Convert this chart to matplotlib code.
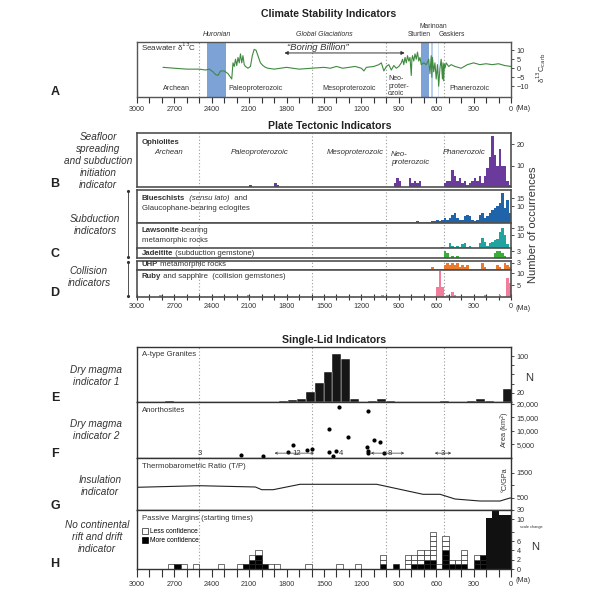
import matplotlib.pyplot as plt
import numpy as np
from matplotlib.patches import Patch
from matplotlib.text import Annotation

plt.rcParams['font.family'] = ['Liberation Sans', 'DejaVu Sans']

# ---------------- data ----------------
# seawater d13C (Ma, permil)
d13c_age = [2790, 2700, 2600, 2500, 2450, 2420, 2390, 2370, 2350, 2330, 2300, 2270, 2250, 2240,
            2230, 2220, 2210, 2200, 2190, 2180, 2170, 2160, 2150, 2140, 2130, 2110, 2090, 2075,
            2060, 2045, 2030, 2010, 1990, 1970, 1950, 1900, 1850, 1800, 1700, 1600, 1500, 1450,
            1400, 1350, 1300, 1250, 1200, 1180, 1160, 1100, 1060, 1040, 1020, 1000, 980, 960,
            940, 920, 900, 880, 870, 860, 850, 840, 830, 820, 810, 800, 795, 790, 780, 770, 760,
            750, 740, 730, 720, 700, 680, 665, 660, 650, 640, 635, 630, 620, 610, 600, 590, 580,
            570, 560, 550, 545, 540, 535, 530, 520, 500, 480, 450, 400, 350, 300, 250, 200, 150,
            100, 50, 0]
d13c_val = [0.5, 0, -0.5, -0.5, -1, -0.5, -2, -3.5, -4, -1.5, -1.5, -3, -5, -6,
            3, 1, 5, 1.5, 6, 3, 8, 3, 7, 2, 1, 0, 1, 7,
            10.5, 10, 7, 3, 1.5, 0.5, 0, -0.5, 0, 0.5, -0.5, 0, 0.5, 0,
            1, 0, 0.5, 1, 0, -1.5, 0.5, 1, 2, 3, -1.5, 1, 2, -1,
            1.5, 0, 1, 3, 5, 2, 6, 3, 7, 4, 6, -4, 5, 7, 4, 8, 5,
            9, 4, 6, 2, 3, 2, 4, 5, -3, 7, -5, 6, -2, 3, -6, 2, -10,
            0, 5, -6, 3, -7, 2, 0, 3, 1, 2, 1, 0, 2, 3, 2, 2.5, 2,
            2.5, 1.5, 1]

huronian = (2435, 2285)
sturtian = (724, 660)
marinoan = (641, 628)
gaskiers = (584, 578)
boundaries = [2500, 1600, 1000, 541]

# plate tectonic indicators, 20-Myr bins (young edge, Ma) and counts
oph_age = [2080, 1880, 1860, 920, 900, 880, 800, 780, 760, 740, 720,
           520, 500, 480, 460, 440, 420, 400, 380, 360, 340, 320, 300, 280, 260, 240,
           220, 200, 180, 160, 140, 120, 100, 80, 60, 40, 20, 0]
oph_n = [1, 2, 1, 2, 4, 3, 4, 2, 3, 2, 3,
         2, 3, 3, 8, 5, 3, 4, 2, 3, 1, 2, 3, 4, 3, 5,
         2, 5, 9, 14, 24, 15, 10, 18, 10, 10, 3, 1]
bs_age = [740, 620, 600, 580, 560, 540, 520, 500, 480, 460, 440, 420, 400, 380, 360, 340,
          320, 300, 280, 260, 240, 220, 200, 180, 160, 140, 120, 100, 80, 60, 40, 20, 0]
bs_n = [1, 1, 1, 2, 1, 2, 3, 2, 3, 5, 6, 3, 2, 2, 4, 5,
        4, 2, 1, 2, 5, 6, 3, 4, 6, 8, 9, 10, 12, 18, 9, 14, 6]
lw_age = [540, 480, 460, 440, 420, 400, 380, 360, 340, 320, 240, 220, 200, 180, 160,
          140, 120, 100, 80, 60, 40, 20]
lw_n = [1, 4, 2, 1, 2, 1, 3, 4, 1, 2, 4, 8, 5, 2, 4, 5, 6, 7, 12, 15, 10, 3]
jd_age = [520, 500, 460, 420, 120, 100, 80, 60, 40]
jd_n = [3, 2, 1, 1, 2, 3, 3, 2, 1]
uhp_age = [620, 520, 500, 480, 460, 440, 420, 400, 380, 360, 340, 220, 200, 100, 80, 40, 20, 0]
uhp_n = [1, 2, 3, 2, 3, 2, 3, 1, 2, 1, 2, 3, 1, 2, 1, 3, 2, 1]
rb_age = [2800, 2100, 1020, 580, 560, 540, 500, 460, 440, 200, 80, 20, 0]
rb_n = [1, 1, 1, 4, 11, 4, 1, 2, 1, 1, 1, 8, 6]

# A-type granites (young bin edge, Ma; 72-Myr bins)
gr_age = [-8, 136, 208, 280, 496, 928, 1000, 1072, 1216, 1288, 1360, 1432, 1504, 1576,
          1648, 1720, 1792, 2704]
gr_n = [28, 3, 6, 3, 2, 2, 6, 2, 6, 94, 104, 65, 41, 22, 6, 5, 2, 2]

# anorthosites (Ma, km2)
an_age = [2168, 1989, 1791, 1751, 1633, 1598, 1457, 1430, 1403, 1379, 1457, 1305, 1149,
          1152, 1149, 1149, 1099, 1053, 1018]
an_area = [1000, 800, 2400, 4700, 3000, 3400, 2400, 900, 2750, 18800, 10800, 7600, 17500,
           4000, 2500, 1700, 6700, 5900, 1900]
an_counts = [(2500, '3'), (1720, '12'), (1360, '4'), (975, '8'), (545, '3')]
an_ranges = [(1919, 1558), (1147, 834), (634, 457)]

# thermobarometric ratio (Ma, C/GPa)
tp_age = [3000, 2500, 2050, 2000, 1908, 1692, 1077, 706, 569, 449, 249, 88, 8, 0]
tp_val = [917, 981, 929, 820, 820, 1038, 1038, 634, 634, 444, 363, 363, 485, 480]

# passive margins (young bin edge, Ma; 50-Myr bins): more / less confidence
pm_age = [2700, 2650, 2600, 2500, 2300, 2150, 2100, 2050, 2000, 1950, 1900, 1850, 1600,
          1350, 1200, 1000, 900, 800, 750, 700, 650, 600, 550, 500, 450, 400, 350, 250,
          200, 150, 100, 50, 0]
pm_more = [0, 1, 0, 0, 0, 0, 1, 2, 3, 1, 0, 0, 0, 0, 0, 1, 1, 0, 1, 1, 2, 2, 0, 4, 1, 1, 1,
           2, 3, 12, 27, 20, 20]
pm_less = [1, 0, 1, 1, 1, 1, 0, 1, 1, 0, 1, 1, 1, 1, 1, 2, 0, 3, 2, 3, 2, 6, 1, 3, 1, 1, 3,
           1, 0, 0, 0, 0, 0]

# ---------------- figure ----------------
fig = plt.figure(figsize=(6, 6), dpi=100)
TXT = '#333333'


def rect(x0, y0, x1, y1):
    return [x0 / 600, 1 - y1 / 600, (x1 - x0) / 600, (y1 - y0) / 600]


def base(ax, edge='#4a4a4a', lw=1.0):
    ax.set_xlim(3000, 0)
    for b in boundaries:
        ax.axvline(b, color='#9a9a9a', ls=(0, (1, 2)), lw=0.8, zorder=0)
    ax.yaxis.tick_right()
    ax.tick_params(axis='y', labelsize=5.2, length=2.5, width=0.6, pad=1.5, colors=TXT)
    ax.set_xticks([])
    for s in ax.spines.values():
        s.set_color(edge)
        s.set_linewidth(lw)


def xaxis(ax, length, direction, pad):
    ticks = np.arange(0, 3001, 100)
    ax.set_xticks(ticks)
    ax.set_xticklabels([str(t) if t % 300 == 0 else '' for t in ticks])
    ax.tick_params(axis='x', labelsize=5.2, length=length, width=0.8, direction=direction,
                   colors=TXT, pad=pad)
    ax.annotate('(Ma)', xy=(0, 0), xycoords=ax.get_xaxis_transform(), xytext=(3.5, -(pad + 5.5)),
                textcoords='offset points', ha='left', va='center', fontsize=5.2, color=TXT)


def ftext(x, y, s, **kw):
    kw.setdefault('color', TXT)
    return fig.text(x / 600, 1 - y / 600, s, **kw)


def rich(x, y, parts):
    # chain of (text, weight, style) pieces placed one after another
    prev = None
    for s, w, st in parts:
        if prev is None:
            prev = ftext(x, y, s, va='center', fontsize=5.6, weight=w, style=st)
        else:
            a = Annotation(s, xy=(1, 0.5), xycoords=prev, xytext=(0, 0),
                           textcoords='offset points', va='center', fontsize=5.6, color=TXT,
                           weight=w, style=st)
            fig.add_artist(a)
            prev = a


# ---- A: climate ----
axA = fig.add_axes(rect(137, 42, 511, 97))
base(axA, edge='#555555')
axA.axvspan(*huronian, color='#7da2d6', lw=0, zorder=1)
axA.axvspan(*sturtian, color='#7da2d6', lw=0, zorder=1)
axA.axvspan(*marinoan, color='#b9cfee', lw=0, zorder=1)
axA.axvspan(*gaskiers, color='#d5e2f4', lw=0, zorder=1)
axA.plot(d13c_age, d13c_val, color='#3e8a3e', lw=0.8, zorder=2)
axA.set_ylim(-16, 14.6)
axA.set_yticks([-10, -5, 0, 5, 10])
xaxis(axA, 4, 'out', 2.5)
axA.text(0.01, 0.84, 'Seawater δ$^{13}$C', transform=axA.transAxes, fontsize=5.8, color=TXT)
axA.text(1550, 11.5, '\u201cBoring Billion\u201d', ha='center', va='center', fontsize=6.8,
         style='italic', color=TXT)
axA.annotate('', xy=(1840, 8.5), xytext=(830, 8.5),
             arrowprops=dict(arrowstyle='<|-|>', lw=0.7, color='#333', mutation_scale=5))
for x, s in [(2790, 'Archean'), (2050, 'Paleoproterozoic'), (1300, 'Mesoproterozoic'),
             (330, 'Phanerozoic')]:
    axA.text(x, -11, s, ha='center' if x != 2790 else 'left', va='center', fontsize=5.2, color=TXT)
axA.text(985, -10, 'Neo-\nproter-\nozoic', ha='left', va='center', fontsize=5, color=TXT,
         linespacing=1.05)
ftext(217, 35, 'Huronian', ha='center', va='center', fontsize=5, style='italic')
ftext(324, 35, 'Global Glaciations', ha='center', va='center', fontsize=5, style='italic')
ftext(419, 35, 'Sturtien', ha='center', va='center', fontsize=4.8)
ftext(433, 27, 'Marinoan', ha='center', va='center', fontsize=4.8)
ftext(452, 35, 'Gaskiers', ha='center', va='center', fontsize=4.8)
ftext(541, 68, 'δ$^{13}$C$_{\\rm carb}$', rotation=90, ha='center', va='center', fontsize=5.5)
ftext(329, 14, 'Climate Stability Indicators', ha='center', va='center', fontsize=7.6,
      weight='bold', color='#222')

# ---- B-D: plate tectonics ----
plate = [
    ((137, 133, 511, 187), oph_age, oph_n, '#6a3b9c', 25.3, [10, 20]),
    ((137, 190, 511, 223), bs_age, bs_n, '#1f63a8', 20, [10, 15]),
    ((137, 223, 511, 248.5), lw_age, lw_n, '#23a3a0', 19, [10, 15]),
    ((137, 248.5, 511, 258), jd_age, jd_n, '#3aad3a', 4.2, [3]),
    ((137, 261, 511, 269.5), uhp_age, uhp_n, '#eb7a2e', 3.9, [3]),
    ((137, 269.5, 511, 297), rb_age, rb_n, '#f27d9b', 11.5, [5, 10]),
]
pax = []
for r, ages, ns, col, top, yt in plate:
    ax = fig.add_axes(rect(*r))
    base(ax, edge='#505050', lw=1.2)
    ax.bar(ages, ns, width=20, align='edge', color=col, lw=0, zorder=2)
    ax.set_ylim(0, top)
    ax.set_yticks(yt)
    pax.append(ax)
xaxis(pax[-1], 4, 'inout', 2.5)

ftext(142, 142, 'Ophiolites', va='center', fontsize=5.6, weight='bold')
ftext(169, 153, 'Archean', ha='center', va='center', fontsize=5.6, style='italic')
ftext(260, 153, 'Paleoproterozoic', ha='center', va='center', fontsize=5.6, style='italic')
ftext(355, 153, 'Mesoproterozoic', ha='center', va='center', fontsize=5.6, style='italic')
ftext(391, 158, 'Neo-\nproterozoic', ha='left', va='center', fontsize=5.6, style='italic',
      linespacing=1.2)
ftext(443, 153, 'Phanerozoic', ha='left', va='center', fontsize=5.6, style='italic')
rich(142, 199, [('Blueschists', 'bold', 'normal'), ('  (sensu lato)', 'normal', 'italic'),
                ('  and', 'normal', 'normal')])
ftext(142, 208, 'Glaucophane-bearing eclogites', va='center', fontsize=5.6)
rich(142, 231, [('Lawsonite', 'bold', 'normal'), ('-bearing', 'normal', 'normal')])
ftext(142, 240, 'metamorphic rocks', va='center', fontsize=5.6)
rich(142, 253.5, [('Jadeitite', 'bold', 'normal'), (' (subduction gemstone)', 'normal', 'normal')])
rich(142, 265, [('UHP', 'bold', 'normal'), (' metamorphic rocks', 'normal', 'normal')])
rich(142, 276, [('Ruby', 'bold', 'normal'),
                (' and sapphire  (collision gemstones)', 'normal', 'normal')])
ftext(533, 225, 'Number of occurrences', rotation=90, ha='center', va='center', fontsize=8)
ftext(330, 126, 'Plate Tectonic Indicators', ha='center', va='center', fontsize=7.6,
      weight='bold', color='#222')

left_lab = dict(ha='center', va='center', fontsize=7.2, style='italic', linespacing=1.25)
ftext(98, 161, 'Seafloor\nspreading\nand subduction\ninitiation\nindicator', **left_lab)
ftext(95, 225, 'Subduction\nindicators', **left_lab)
ftext(89, 277, 'Collision\nindicators', **left_lab)
for y, s in [(92, 'A'), (184, 'B'), (254, 'C'), (293, 'D'), (398, 'E'), (454, 'F'), (506, 'G'),
             (564, 'H')]:
    ftext(55, y, s, ha='center', va='center', fontsize=9, weight='bold', color='#222')
for y0, y1 in [(191, 257), (262, 296)]:
    fig.add_artist(plt.Line2D([128 / 600] * 2, [1 - y0 / 600, 1 - y1 / 600], color='#333', lw=0.6))
    fig.add_artist(plt.Line2D([128 / 600] * 2, [1 - y0 / 600, 1 - y1 / 600], color='#333', lw=0,
                              marker='.', markersize=2.5, markevery=[0, 1]))

# ---- E-H: single lid ----
ftext(334, 340, 'Single-Lid Indicators', ha='center', va='center', fontsize=7.6,
      weight='bold', color='#222')
ftext(96, 376, 'Dry magma\nindicator 1', **left_lab)
ftext(96, 430, 'Dry magma\nindicator 2', **left_lab)
ftext(100, 486, 'Insulation\nindicator', **left_lab)
ftext(97, 537, 'No continental\nrift and drift\nindicator', **left_lab)

axE = fig.add_axes(rect(137, 347, 511, 402))
base(axE, edge='#333333')
axE.bar(gr_age, gr_n, width=72, align='edge', color='#161616', edgecolor='white', lw=0.3, zorder=2)
axE.set_ylim(0, 119.6)
axE.set_yticks([20, 40, 60, 80, 100])
axE.set_yticklabels(['20', '', '', '', '100'])
axE.text(0.014, 0.83, 'A-type Granites', transform=axE.transAxes, fontsize=5.6, color=TXT)
ftext(529, 378, 'N', ha='center', va='center', fontsize=8)

axF = fig.add_axes(rect(137, 402, 511, 458))
base(axF, edge='#333333')
axF.scatter(an_age, an_area, s=9, color='black', zorder=3, lw=0)
axF.set_ylim(0, 20700)
axF.set_yticks([5000, 10000, 15000, 20000])
axF.set_yticklabels(['5,000', '10,000', '15,000', '20,000'])
for a, s in an_counts:
    axF.text(a, 1800, s, ha='center', va='center', fontsize=5.6, color=TXT)
for a0, a1 in an_ranges:
    axF.annotate('', xy=(a0, 1800), xytext=(a1, 1800),
                 arrowprops=dict(arrowstyle='<->', lw=0.5, color='#333', mutation_scale=4))
axF.text(0.014, 0.83, 'Anorthosites', transform=axF.transAxes, fontsize=5.6, color=TXT)
axF.text(0.984, 0.5, 'Area (km$^2$)', transform=axF.transAxes, rotation=90, ha='center',
         va='center', fontsize=5.2, color=TXT)

axG = fig.add_axes(rect(137, 458, 511, 510))
base(axG, edge='#333333')
axG.plot(tp_age, tp_val, color='#222', lw=0.8)
axG.set_ylim(0, 2100)
axG.set_yticks([500, 1000, 1500])
axG.set_yticklabels(['500', '', '1500'])
axG.text(0.014, 0.8, 'Thermobarometric Ratio (T/P)', transform=axG.transAxes, fontsize=5.6,
         color=TXT)
axG.text(0.984, 0.58, '°C/GPa', transform=axG.transAxes, rotation=90, ha='center',
         va='center', fontsize=5.2, color=TXT)


def fwd(v):
    v = np.asarray(v, float)
    return np.where(v <= 8, v, np.where(v <= 10, 8 + (v - 8) * 1.375, 10.75 + (v - 10) * 0.097))


def inv(u):
    u = np.asarray(u, float)
    return np.where(u <= 8, u, np.where(u <= 10.75, 8 + (u - 8) / 1.375, 10 + (u - 10.75) / 0.097))


axH = fig.add_axes(rect(137, 510, 511, 569))
base(axH, edge='#333333')
axH.set_yscale('function', functions=(fwd, inv))
sq_x, sq_b, sq_c = [], [], []
big_x, big_h = [], []
for a, m, l in zip(pm_age, pm_more, pm_less):
    if m + l > 8:
        big_x.append(a)
        big_h.append(m)
        continue
    for k in range(m):
        sq_x.append(a); sq_b.append(k); sq_c.append('black')
    for k in range(l):
        sq_x.append(a); sq_b.append(m + k); sq_c.append('white')
axH.bar(sq_x, 1, bottom=sq_b, width=50, align='edge', color=sq_c, edgecolor='#222', lw=0.45,
        zorder=2)
axH.bar(big_x, big_h, width=50, align='edge', color='#111', lw=0, zorder=2)
axH.set_ylim(0, 30)
axH.set_yticks([0, 2, 4, 6, 8, 10, 30])
axH.set_yticklabels(['0', '2', '4', '6', '', '10', '30'])
axH.yaxis.set_minor_locator(plt.NullLocator())
xaxis(axH, 6, 'out', 2.5)
axH.text(0.014, 0.83, 'Passive Margins (starting times)', transform=axH.transAxes,
         fontsize=5.6, color=TXT)
axH.legend([Patch(facecolor='white', edgecolor='#222', lw=0.5),
            Patch(facecolor='black', edgecolor='black', lw=0.5)],
           ['Less confidence', 'More confidence'], loc='upper left',
           bbox_to_anchor=(0.0, 0.77), frameon=False, fontsize=4.8, handlelength=0.9,
           handleheight=0.9, handletextpad=0.4, labelspacing=0.25, borderaxespad=0.3)
ftext(531, 527, 'scale change', ha='center', va='center', fontsize=2.8)
ftext(535, 547, 'N', ha='center', va='center', fontsize=8)

fig.savefig('out.png', dpi=100)
